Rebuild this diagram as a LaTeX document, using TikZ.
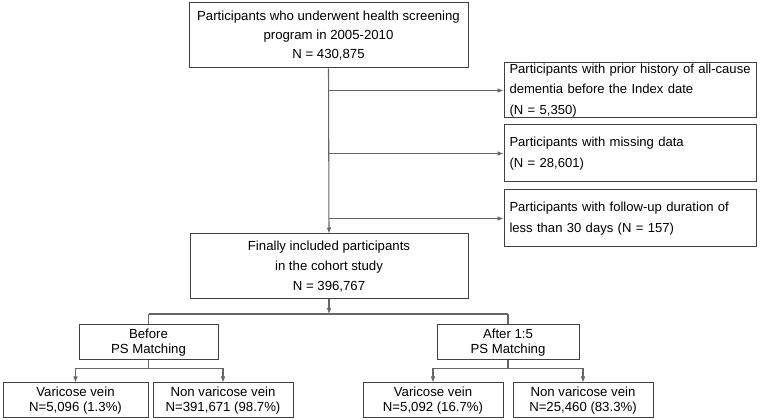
\documentclass[tikz,border=0pt]{standalone}
\usepackage{fontspec}
\setmainfont{Liberation Sans}
\usetikzlibrary{arrows.meta}

\begin{document}
\begin{tikzpicture}[x=0.75pt,y=-0.75pt,
  >={Latex[length=4.5pt,width=3.5pt]},
  flowbox/.style 2 args={draw=black!75,line width=0.75pt,inner sep=0pt,
    minimum width=#1*0.75pt,minimum height=#2*0.75pt,align=center,
    font=\fontsize{9.9}{14.5}\selectfont},
  sidebox/.style={draw=black!75,line width=0.75pt,inner xsep=4.1pt,inner ysep=0pt,
    text width=181.5pt,minimum height=#1*0.75pt,align=left,
    font=\fontsize{9.8}{15.5}\selectfont},
  smallbox/.style={flowbox={#1}{35},font=\fontsize{9.9}{11.5}\selectfont},
  link/.style={draw=black!60,line width=0.8pt}]
\useasboundingbox (0,0) rectangle (761,420);

% main column
\node[flowbox={279}{65}] (top) at (328.5,35.5)
  {Participants who underwent health screening\\program in 2005-2010\\N = 430,875};
\node[flowbox={278}{65},font=\fontsize{9.9}{15}\selectfont] (final) at (329,266.5)
  {Finally included participants\\in the cohort study\\N = 396,767};

% exclusions
\node[sidebox=55] (ex1) at (630.5,90.5)
  {Participants with prior history of all-cause\\dementia before the Index date\\(N = 5,350)};
\node[sidebox=57] (ex2) at (630.5,153.5)
  {Participants with missing data\\(N = 28,601)};
\node[sidebox=57] (ex3) at (630.5,218.5)
  {Participants with follow-up duration of\\less than 30 days (N = 157)};

% matching
\node[smallbox=139] (before) at (148.5,342.5) {Before\\PS Matching};
\node[smallbox=142] (after) at (508,342.5) {After 1:5\\PS Matching};
\node[smallbox=145] (vv1) at (75.5,400.5) {Varicose vein\\N=5,096 (1.3\%)};
\node[smallbox=140] (nv1) at (223,400.5) {Non varicose vein\\N=391,671 (98.7\%)};
\node[smallbox=140] (vv2) at (433,400.5) {Varicose vein\\N=5,092 (16.7\%)};
\node[smallbox=140] (nv2) at (583,400.5) {Non varicose vein\\N=25,460 (83.3\%)};

\coordinate (split) at (329,314);

\draw[link,->] (top.south) -- (final.north);
\foreach \ex in {ex1,ex2,ex3}
  \draw[link,->] (top.south |- \ex.west) -- (\ex.west);

\draw[link,->] (final.south) -- (split);
\draw[link] (before.north |- split) -- (after.north |- split);
\draw[link] (before.north |- split) -- (before.north);
\draw[link] (after.north |- split) -- (after.north);

\foreach \grp/\lft/\rgt in {before/vv1/nv1,after/vv2/nv2}{
  \draw[link] (\grp.south) -- ++(0,8) coordinate (fork);
  \draw[link] (\lft.north |- fork) -- (\rgt.north |- fork);
  \draw[link,->] (\lft.north |- fork) -- (\lft.north);
  \draw[link,->] (\rgt.north |- fork) -- (\rgt.north);
}
\end{tikzpicture}
\end{document}
